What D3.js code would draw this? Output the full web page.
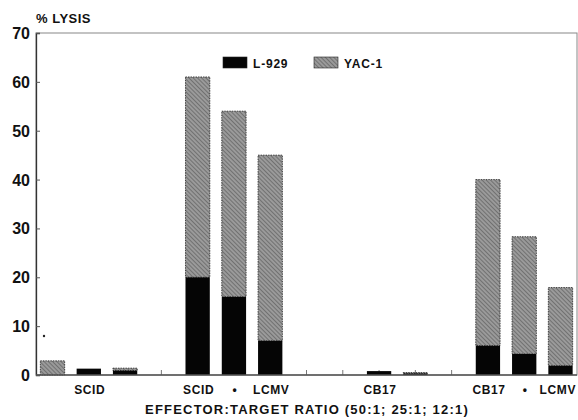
<!DOCTYPE html>
<html>
<head>
<meta charset="utf-8">
<script src="https://cdn.jsdelivr.net/npm/d3@7"></script>
<style>
  body { margin: 0; background: #fff; }
  text { font-family: "Liberation Sans", Arial, sans-serif; font-weight: bold; fill: #111; }
</style>
</head>
<body>
<div id="root"></div>
<script>
// 15 slots, three ratios per group, empty slots between groups
var slots = ["s1","s2","s3","s4","s5","s6","s7","s8","s9","s10","s11","s12","s13","s14","s15"]
var l929  = [0, 1.3, 0.9, null, 20, 16, 7, null, null, 0.8, 0.3, 0, 6, 4.3, 1.9]
var yac1  = [2.9, 0, 0.5, null, 41, 38, 38, null, null, 0, 0.2, 0, 34, 24, 16]
var slotLabels = ["", "SCID", "", "", "SCID", "\u2022", "LCMV", "", "", "CB17", "", "", "CB17", "\u2022", "LCMV"]
var yTicks = [0, 10, 20, 30, 40, 50, 60, 70]

var W = 578, H = 420
var margin = ({ top: 33, right: 1, bottom: 45, left: 36 })

var svg = d3.select("#root").append("svg")
  .attr("width", W).attr("height", H)

// hatch pattern for YAC-1
var defs = svg.append("defs")
var pat = defs.append("pattern")
  .attr("id", "hatch")
  .attr("patternUnits", "userSpaceOnUse")
  .attr("width", 3).attr("height", 3)
  .attr("patternTransform", "rotate(-45)")
pat.append("rect").attr("width", 3).attr("height", 3).attr("fill", "#9a9a9a")
pat.append("line").attr("x1", 0).attr("y1", 0).attr("x2", 0).attr("y2", 3)
  .attr("stroke", "#555").attr("stroke-width", 1.2)

var x = d3.scaleBand()
  .domain(slots)
  .range([margin.left, W - margin.right])
  .paddingInner(0.33).paddingOuter(0.12)

var y = d3.scaleLinear()
  .domain([0, 70])
  .range([H - margin.bottom, margin.top])

// frame
svg.append("rect")
  .attr("x", margin.left).attr("y", margin.top)
  .attr("width", W - margin.right - margin.left)
  .attr("height", y(0) - margin.top)
  .attr("fill", "none").attr("stroke", "#888").attr("stroke-width", 1)

// y axis
var yAxis = svg.append("g")
  .attr("transform", "translate(" + margin.left + ",0)")
  .call(d3.axisRight(y).tickValues(yTicks).tickSize(4).tickFormat(""))
yAxis.select(".domain").attr("stroke", "#333").attr("stroke-width", 1.3)
yAxis.selectAll(".tick line").attr("stroke", "#555")

svg.append("g").selectAll("text")
  .data(yTicks)
  .enter().append("text")
  .attr("x", 30).attr("y", d => y(d) + 6)
  .attr("text-anchor", "end")
  .style("font-size", "16px")
  .text(d => d)

// x ticks at each slot
svg.append("g").selectAll("line")
  .data(slots)
  .enter().append("line")
  .attr("x1", d => x(d) + x.bandwidth() / 2)
  .attr("x2", d => x(d) + x.bandwidth() / 2)
  .attr("y1", y(0)).attr("y2", y(0) - 5)
  .attr("stroke", "#777")

// stacked bars
var rows = slots.map((s, i) => ({ slot: s, l: l929[i], yac: yac1[i] }))
  .filter(d => d.l !== null)

var bars = svg.append("g")
bars.selectAll(".yac")
  .data(rows.filter(d => d.yac > 0))
  .enter().append("rect")
  .attr("class", "yac")
  .attr("x", d => x(d.slot))
  .attr("width", x.bandwidth())
  .attr("y", d => y(d.l + d.yac))
  .attr("height", d => y(d.l) - y(d.l + d.yac))
  .attr("fill", "url(#hatch)")
  .attr("stroke", "#222").attr("stroke-width", 0.8)
  .attr("stroke-dasharray", "1.5,1")

bars.selectAll(".l929")
  .data(rows.filter(d => d.l > 0))
  .enter().append("rect")
  .attr("class", "l929")
  .attr("x", d => x(d.slot))
  .attr("width", x.bandwidth())
  .attr("y", d => y(d.l))
  .attr("height", d => y(0) - y(d.l))
  .attr("fill", "#050505")

// baseline
svg.append("line")
  .attr("x1", margin.left).attr("x2", W - margin.right)
  .attr("y1", y(0)).attr("y2", y(0))
  .attr("stroke", "#555").attr("stroke-width", 1.3)

// slot labels (kept inside the picture)
svg.append("g").selectAll("text")
  .data(slots.map((s, i) => ({ slot: s, label: slotLabels[i] })).filter(d => d.label))
  .enter().append("text")
  .attr("y", 394)
  .attr("text-anchor", "middle")
  .style("font-size", "12px")
  .style("letter-spacing", "0.6px")
  .text(d => d.label)
  .attr("x", function(d) {
    var half = this.getComputedTextLength() / 2
    return Math.min(x(d.slot) + x.bandwidth() / 2 + 1, W - half - 2)
  })

// axis titles
svg.append("text")
  .attr("x", 307).attr("y", 414)
  .attr("text-anchor", "middle")
  .style("font-size", "13px")
  .style("letter-spacing", "1.2px")
  .text("EFFECTOR:TARGET RATIO (50:1; 25:1; 12:1)")

svg.append("text")
  .attr("x", 36).attr("y", 23)
  .style("font-size", "13px")
  .style("letter-spacing", "0.5px")
  .text("% LYSIS")

// legend
var legend = svg.append("g")
var legendItems = [{ name: "L-929", fill: "#050505", x: 223 }, { name: "YAC-1", fill: "url(#hatch)", x: 314 }]
legendItems.forEach(function(d) {
  legend.append("rect")
    .attr("x", d.x).attr("y", 57).attr("width", 24).attr("height", 11)
    .attr("fill", d.fill)
    .attr("stroke", "#222").attr("stroke-width", 0.6)
  legend.append("text")
    .attr("x", d.x + 30).attr("y", 68)
    .style("font-size", "12px")
    .style("letter-spacing", "0.8px")
    .text(d.name)
})

// stray mark near the axis
svg.append("circle").attr("cx", 44).attr("cy", 336).attr("r", 1.2).attr("fill", "#222")
</script>
</body>
</html>
